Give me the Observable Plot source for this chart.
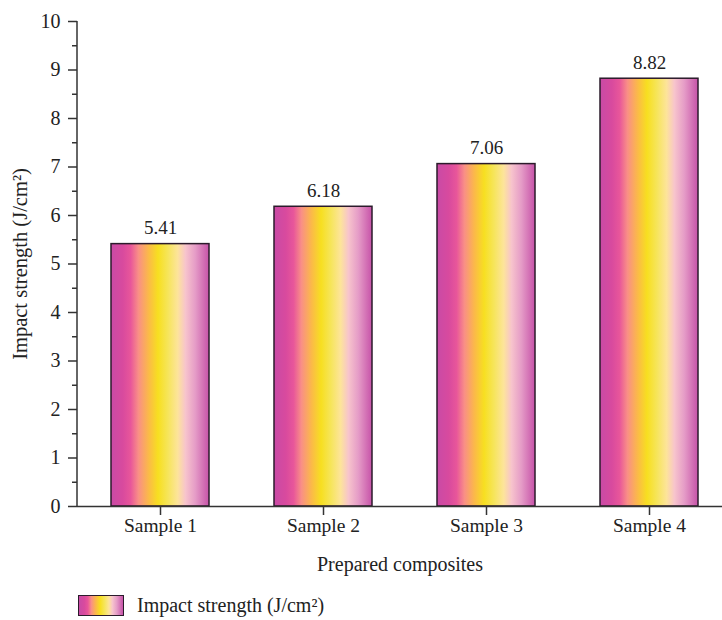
<!DOCTYPE html>
<html>
<head>
<meta charset="utf-8">
<script src="https://cdn.jsdelivr.net/npm/d3@7"></script>
<script src="https://cdn.jsdelivr.net/npm/@observablehq/plot@0.6"></script>
<style>
  html, body { margin: 0; padding: 0; background: #fff; }
  #chart { width: 722px; font-family: "Liberation Serif", "Times New Roman", serif; color: #222; }
  .legend { display: flex; align-items: center; height: 30px; padding-left: 78px; font-size: 20px; }
  .legend .swatch { width: 44px; height: 19px; border: 1.5px solid #2b1b2b; margin-right: 13px;
    background: linear-gradient(to right, #c94aa6 0%, #d84a9e 12%, #e8569a 20%, #f98f86 28%, #fbb84a 38%, #f7df20 48%, #f6e55a 58%, #fde49a 68%, #f7c4cc 76%, #e59cc7 86%, #c652a8 100%); }
</style>
</head>
<body>
<div id="chart"></div>
<script>
// Impact strength of the prepared composites (J/cm²)
const samples = ["Sample 1", "Sample 2", "Sample 3", "Sample 4"];
const strength = [5.41, 6.18, 7.06, 8.82];
const majorTicks = [0, 1, 2, 3, 4, 5, 6, 7, 8, 9, 10];
const minorTicks = [0.5, 1.5, 2.5, 3.5, 4.5, 5.5, 6.5, 7.5, 8.5, 9.5];

const data = samples.map((s, i) => ({sample: s, value: strength[i]}));

// horizontal gradient used to fill each bar
const gradientStops = [
  [0, "#c94aa6"], [0.12, "#d84a9e"], [0.2, "#e8569a"], [0.28, "#f98f86"],
  [0.38, "#fbb84a"], [0.48, "#f7df20"], [0.58, "#f6e55a"], [0.68, "#fde49a"],
  [0.76, "#f7c4cc"], [0.86, "#e59cc7"], [1, "#c652a8"]
];

function defs() {
  const d = d3.create("svg:defs");
  const g = d.append("linearGradient").attr("id", "barGradient")
    .attr("x1", "0").attr("x2", "1").attr("y1", "0").attr("y2", "0");
  for (const [o, c] of gradientStops) g.append("stop").attr("offset", o).attr("stop-color", c);
  return d.node();
}

// vertical axis line drawn from the y scale
function yAxisLine(index, scales, values, dimensions) {
  const {marginLeft} = dimensions;
  const y = scales.y;
  return d3.create("svg:line")
    .attr("x1", marginLeft).attr("x2", marginLeft)
    .attr("y1", y(0)).attr("y2", y(10))
    .attr("stroke", "#333").attr("stroke-width", 1.5).node();
}

const W = 722, H = 590, mL = 77, mT = 21, mB = 84;

const plot = Plot.plot({
  width: W,
  height: H,
  marginLeft: mL,
  marginRight: 0,
  marginTop: mT,
  marginBottom: mB,
  style: {fontFamily: "Liberation Serif, Times New Roman, serif", fontSize: "19px", color: "#222", background: "#fff"},
  x: {domain: samples, range: [mL, 732], paddingInner: 0.4, paddingOuter: 0.2, axis: null},
  y: {domain: [0, 10], axis: null},
  marks: [
    defs,
    Plot.barY(data, {x: "sample", y: "value", fill: "url(#barGradient)", stroke: "#2b1b2b", strokeWidth: 1.5}),
    Plot.text(data, {x: "sample", y: "value", text: d => d.value.toFixed(2), dy: -16, fontSize: 19, fill: "#222"}),
    Plot.ruleY([0], {stroke: "#333", strokeWidth: 1.5}),
    yAxisLine,
    Plot.axisY(majorTicks, {tickSize: 9, tickPadding: 8, stroke: "#333", strokeWidth: 1.5, fontSize: 20,
      label: null}),
    Plot.axisY(minorTicks, {tickSize: 5, text: null, stroke: "#333", strokeWidth: 1.5, label: null}),
    Plot.axisX(samples, {tickSize: 9, tickPadding: 3, stroke: "#333", strokeWidth: 1.5, fontSize: 19.5, label: null}),
    Plot.text(["Prepared composites"], {frameAnchor: "bottom", dy: 64, fontSize: 20, fill: "#222"}),
    Plot.text(["Impact strength (J/cm²)"], {frameAnchor: "left", textAnchor: "middle", dx: -57, rotate: -90, fontSize: 20.5, fill: "#222"})
  ]
});

const chart = document.getElementById("chart");
chart.appendChild(plot);

const legend = document.createElement("div");
legend.className = "legend";
legend.innerHTML = '<span class="swatch"></span><span>Impact strength (J/cm²)</span>';
chart.appendChild(legend);
</script>
</body>
</html>
